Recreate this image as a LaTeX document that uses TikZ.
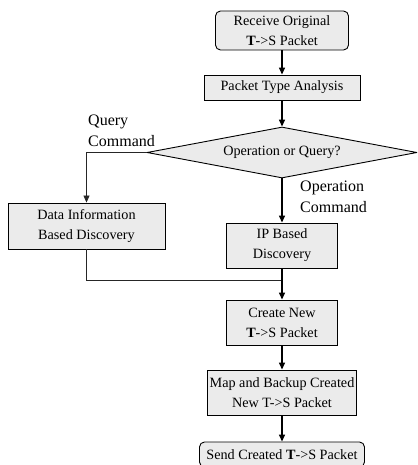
\documentclass[tikz,border=0pt]{standalone}
\usepackage{fontspec}
\setmainfont{Liberation Serif}
\usetikzlibrary{shapes.geometric,arrows.meta,positioning}
\definecolor{boxgray}{RGB}{235,235,235}
\tikzset{
	stepbox/.style={
		draw, rectangle, fill=boxgray, line width=0.9pt,
		inner sep=0pt, align=center, text=black,
		font=\fontsize{14.2}{20}\selectfont
	},
	startbox/.style={stepbox, rounded corners=5pt},
	decision/.style={
		draw, diamond, fill=boxgray, line width=0.9pt,
		inner sep=0pt, aspect=5.3, minimum width=270pt, minimum height=51pt,
		font=\fontsize{14.2}{20}\selectfont
	},
	tag/.style={align=left, inner sep=0pt, anchor=north west,
		font=\fontsize{16}{20.5}\selectfont},
	flow/.style={line width=1.4pt, -{Triangle[length=7pt,width=6pt]}},
	branch/.style={line width=0.8pt, draw=black!85}
}

\begin{document}
\begin{tikzpicture}[x=1pt,y=-1pt]
	\useasboundingbox (0,0) rectangle (417,465);
	\clip (0,0) rectangle (417,465);
	\node[startbox, minimum width=133pt, minimum height=39pt] (recv) at (282,30.5) {Receive Original\\\textbf{T}->S Packet};
	\node[stepbox, minimum width=156pt, minimum height=25pt] (type) at (282,87.5) {Packet Type Analysis};
	\node[decision] (query) at (282,152.5) {Operation or Query?};
	\node[stepbox, minimum width=157pt, minimum height=46pt] (data) at (86.5,226) {Data Information\\Based Discovery};
	\node[stepbox, minimum width=111pt, minimum height=45pt] (ip) at (282,245.5) {IP Based\\Discovery};
	\node[stepbox, minimum width=111pt, minimum height=45pt] (create) at (282,322.5) {Create New\\\textbf{T}->S Packet};
	\node[stepbox, minimum width=149pt, minimum height=45pt] (map) at (282,392.5) {Map and Backup Created\\New T->S Packet};
	\node[startbox, minimum width=165pt, minimum height=25pt] (send) at (282,454.5) {Send Created \textbf{T}->S Packet};
	\node[tag] (qlabel) at (88,115) {Query\\Command};
	\node[tag] (olabel) at (300,181) {Operation\\Command};
	\coordinate (merge) at (282,280);
	\draw[flow] (recv) -- (type);
	\draw[flow] (type) -- (query);
	\draw[branch, -{Triangle[length=7pt,width=6pt]}] (query.west) -| (data.north);
	\draw[flow] (query) -- (ip);
	\draw[branch] (data.south) |- (merge);
	\draw[flow] (ip) -- (create);
	\draw[flow] (create) -- (map);
	\draw[flow] (map) -- (send);
\end{tikzpicture}
\end{document}
